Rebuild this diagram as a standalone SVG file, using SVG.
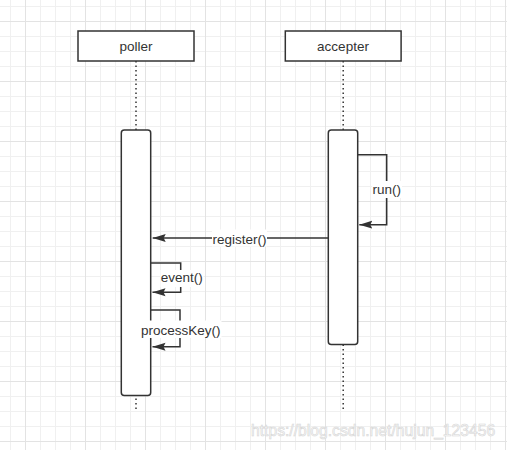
<svg xmlns="http://www.w3.org/2000/svg" width="507" height="450" viewBox="0 0 507 450">
<style>
.box{fill:#fff;stroke:#333;stroke-width:1.5}
.life{stroke:#333;stroke-width:1.5;stroke-dasharray:1.5 3;fill:none}
.msg{fill:none;stroke:#333;stroke-width:1.5}
.lbl{font-family:"Liberation Sans",Helvetica,Arial,sans-serif;font-size:13.5px;fill:#333;text-anchor:middle}
.bg{fill:#fff}
</style>
<defs>
<pattern id="grid" patternUnits="userSpaceOnUse" x="25" y="21" width="60" height="60">
<path d="M15.5,0V60M30.5,0V60M45.5,0V60M0,15.5H60M0,30.5H60M0,45.5H60" stroke="#f0f0f0" stroke-width="1" fill="none"/>
<path d="M0.5,0V60M0,0.5H60" stroke="#e3e3e3" stroke-width="1" fill="none"/>
</pattern>
<marker id="arr" markerUnits="userSpaceOnUse" viewBox="0 0 14 10" markerWidth="14" markerHeight="10" refX="13" refY="5" orient="auto">
<path d="M0,1 L13,5 L0,9 L2,5 Z" fill="#333"/>
</marker>
</defs>
<rect width="507" height="450" fill="#fff"/>
<rect width="507" height="450" fill="url(#grid)"/>
<g id="poller">
<path class="life" d="M136,61V412"/>
<rect class="box" x="78" y="31" width="116" height="30"/>
<text class="lbl" x="136" y="51">poller</text>
<rect class="box" x="121.3" y="130" width="29.4" height="265.5" rx="3"/>
</g>
<g id="accepter">
<path class="life" d="M343.2,61V412"/>
<rect class="box" x="285.3" y="31" width="115.8" height="30"/>
<text class="lbl" x="343" y="51">accepter</text>
<rect class="box" x="328.3" y="130" width="29.4" height="214.5" rx="3"/>
</g>
<g id="connectors">
<path class="msg" d="M357.7,154.7H386.7V224.7H359.3" marker-end="url(#arr)"/>
<rect class="bg" x="372" y="181" width="30" height="17"/>
<text class="lbl" x="386.7" y="194.2">run()</text>
<path class="msg" d="M328.3,238H152.7" marker-end="url(#arr)"/>
<rect class="bg" x="212" y="229.5" width="55" height="17"/>
<text class="lbl" x="239.5" y="243.5">register()</text>
<path class="msg" d="M150.7,263H180.7V292.3H152.5" marker-end="url(#arr)"/>
<rect class="bg" x="160.5" y="270" width="43" height="17"/>
<text class="lbl" x="181.8" y="282.3">event()</text>
<path class="msg" d="M150.7,310H180V346.7H152.5" marker-end="url(#arr)"/>
<rect class="bg" x="140.5" y="320.5" width="81" height="17.5"/>
<text class="lbl" x="180.8" y="334.5">processKey()</text>
</g>
<text x="251" y="435.5" font-family="Liberation Sans,Arial,sans-serif" font-size="15.7" fill="#fafafa" stroke="#d6d6d6" stroke-width="0.6">https://blog.csdn.net/hujun_123456</text>
</svg>
